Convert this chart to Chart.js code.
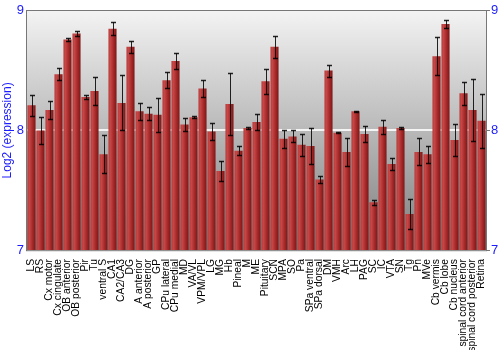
<!DOCTYPE html>
<html>
<head>
<meta charset="utf-8">
<script src="https://cdn.jsdelivr.net/npm/chart.js@4"></script>
<style>body{margin:0;background:#fff}</style>
</head>
<body>
<canvas id="myChart" width="500" height="350"></canvas>
<script>
let regions = ["LS","RS","Cx motor","Cx cingulate","OB anterior","OB posterior","Pir","Tu","ventral S","CA1",
    "CA2/CA3","DG","A anterior","A posterior","GP","CPu lateral","CPu medial","MD","VA/VL","VPM/VPL",
    "LG","MG","Hb","Pineal","M","ME","Pituitary","SCN","MPA","SO",
    "Pa","SPa ventral","SPa dorsal","DM","VMH","Arc","LH","PAG","SC","IC",
    "VTA","SN","Tg","Pn","MVe","Cb vermis","Cb lobe","Cb nucleus","spinal cord anterior","spinal cord posterior",
    "Retina"]
let expression = [8.21,8.00,8.17,8.47,8.76,8.81,8.28,8.33,7.80,8.85,
    8.23,8.70,8.16,8.14,8.13,8.42,8.58,8.05,8.11,8.35,
    7.99,7.66,8.22,7.83,8.02,8.07,8.41,8.70,7.93,7.95,
    7.88,7.87,7.59,8.50,7.98,7.82,8.16,7.97,7.40,8.03,
    7.72,8.02,7.30,7.82,7.80,8.62,8.89,7.92,8.31,8.17,
    8.08]
let errors = [0.09,0.11,0.077,0.048,0.015,0.02,0.014,0.116,0.16,0.054,
    0.23,0.05,0.073,0.054,0.143,0.068,0.064,0.055,0.008,0.073,
    0.072,0.081,0.257,0.036,0.005,0.064,0.105,0.091,0.073,0.051,
    0.094,0.149,0.028,0.05,0.005,0.116,0.005,0.07,0.02,0.061,
    0.052,0.007,0.124,0.113,0.073,0.157,0.037,0.133,0.094,0.26,
    0.224]
let yTicks = [7,8,9]

const blue = "#1c1cff"

// grey backdrop plus frame
const backdrop = {
    id: 'backdrop',
    beforeDraw(chart) {
        let a = chart.chartArea, ctx = chart.ctx
        let g = ctx.createLinearGradient(0, a.top, 0, a.bottom)
        g.addColorStop(0, "#f3f3f3")
        g.addColorStop(1, "#7e7e7e")
        ctx.save()
        ctx.fillStyle = g
        ctx.fillRect(a.left, a.top, a.right - a.left, a.bottom - a.top)
        ctx.restore()
    },
    afterDraw(chart) {
        let a = chart.chartArea, ctx = chart.ctx
        ctx.save()
        ctx.strokeStyle = "#777"
        ctx.lineWidth = 1
        ctx.strokeRect(Math.round(a.left) - 0.5, Math.round(a.top) - 0.5, a.right - a.left + 1, a.bottom - a.top + 1)
        ctx.restore()
    }
}

const errorBars = {
    id: 'errorBars',
    afterDatasetsDraw(chart) {
        let ctx = chart.ctx, x = chart.scales.x, y = chart.scales.y
        ctx.save()
        ctx.strokeStyle = "rgba(0,0,0,0.85)"
        for (let i = 0; i < expression.length; i++) {
            let px = Math.round(x.getPixelForValue(i)) + 0.5
            let top = Math.round(y.getPixelForValue(expression[i] + errors[i])) + 0.5
            let bot = Math.round(y.getPixelForValue(expression[i] - errors[i])) + 0.5
            ctx.lineWidth = 1
            ctx.beginPath()
            ctx.moveTo(px, top)
            ctx.lineTo(px, bot)
            ctx.stroke()
            ctx.lineWidth = 1.5
            ctx.beginPath()
            ctx.moveTo(px - 2.5, top)
            ctx.lineTo(px + 2.5, top)
            ctx.moveTo(px - 2.5, bot)
            ctx.lineTo(px + 2.5, bot)
            ctx.stroke()
        }
        ctx.restore()
    }
}

function barFill(c) {
    let chart = c.chart
    if (!chart.chartArea || !chart.scales.x) return "#b03030"
    let px = chart.scales.x.getPixelForValue(c.dataIndex)
    let g = chart.ctx.createLinearGradient(px - 4.5, 0, px + 4.5, 0)
    g.addColorStop(0, "#b23434")
    g.addColorStop(0.25, "#c84848")
    g.addColorStop(0.6, "#a82a2a")
    g.addColorStop(1, "#761414")
    return g
}

let mychart = document.getElementById('myChart').getContext('2d')
let chart = new Chart(mychart, {
    type: 'bar',
    data: {
        labels: regions,
        datasets: [{
            data: expression,
            backgroundColor: barFill,
            borderWidth: 0,
            barPercentage: 0.9,
            categoryPercentage: 1.0
        }]
    },
    options: {
        responsive: false,
        animation: false,
        layout: { padding: { top: 9, left: 0, right: 0, bottom: 0 } },
        plugins: { legend: { display: false }, tooltip: { enabled: false } },
        scales: {
            x: {
                grid: { display: false },
                border: { display: false },
                ticks: {
                    autoSkip: false, maxRotation: 90, minRotation: 90, padding: 1,
                    color: "#000", font: { family: "Liberation Sans", size: 10.3 }
                },
                afterFit(s) { s.height = 100 }
            },
            y: {
                min: 7, max: 9,
                afterBuildTicks(s) { s.ticks = yTicks.map(v => ({ value: v })) },
                grid: {
                    drawTicks: false,
                    color: c => c.tick && c.tick.value === 8 ? "#f4f4f4" : "rgba(0,0,0,0)",
                    lineWidth: 2
                },
                border: { display: false },
                ticks: { color: blue, padding: 3, font: { family: "Liberation Sans", size: 13 } },
                title: {
                    display: true, text: "Log2 (expression)", color: blue, padding: 0,
                    font: { family: "Liberation Sans", size: 12 }
                },
                afterFit(s) { s.width = 27 }
            },
            y2: {
                position: 'right',
                min: 7, max: 9,
                afterBuildTicks(s) { s.ticks = yTicks.map(v => ({ value: v })) },
                grid: { drawOnChartArea: false, tickLength: 4, color: "#777" },
                border: { display: false },
                ticks: { color: blue, padding: 1, font: { family: "Liberation Sans", size: 13 } },
                afterFit(s) { s.width = 14 }
            }
        }
    },
    plugins: [backdrop, errorBars]
})
</script>
</body>
</html>
